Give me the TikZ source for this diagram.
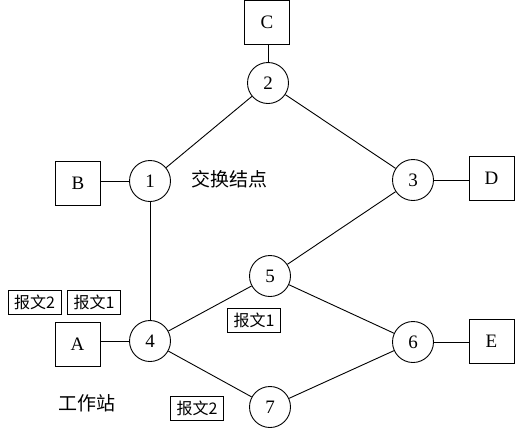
\documentclass[tikz,border=0pt]{standalone}
\usepackage{fontspec}
\setmainfont{Liberation Serif}
\newfontfamily\cjk{Noto Sans CJK SC}
\begin{document}
\begin{tikzpicture}[x=1pt,y=-1pt,
  sw/.style={circle,draw,line width=0.9pt,minimum size=41pt,inner sep=0pt,font=\fontsize{19}{19}\selectfont},
  host/.style={rectangle,draw,line width=0.9pt,minimum width=45pt,minimum height=44pt,inner sep=0pt,font=\fontsize{19}{19}\selectfont},
  msg/.style={rectangle,draw,line width=0.9pt,minimum width=53pt,minimum height=24pt,inner sep=1pt,font=\cjk\fontsize{16}{16}\selectfont},
  lbl/.style={inner sep=0pt,font=\cjk\fontsize{19}{19}\selectfont},
  link/.style={line width=0.9pt}]
\useasboundingbox (0,0) rectangle (520,432);
\node[host] (C) at (267,22) {C};
\node[sw] (n2) at (268,83) {2};
\node[sw] (n1) at (150,181) {1};
\node[host] (B) at (78,183) {B};
\node[lbl] (t1) at (229,179) {交换结点};
\node[sw] (n3) at (413,180) {3};
\node[host] (D) at (491.5,178) {D};
\node[sw] (n5) at (270,276) {5};
\node[sw] (n4) at (150,341) {4};
\node[host] (A) at (77.5,344) {A};
\node[sw] (n6) at (413,342) {6};
\node[host] (E) at (491.5,341) {E};
\node[sw] (n7) at (270,407) {7};
\node[lbl] (t2) at (87,403) {工作站};
\node[msg] (m1) at (34.5,302.5) {报文2};
\node[msg] (m2) at (94,302.5) {报文1};
\node[msg] (m3) at (254,320) {报文1};
\node[msg] (m4) at (197,408.5) {报文2};
\draw[link] (n1) -- (n2);
\draw[link] (n2) -- (n3);
\draw[link] (n1) -- (n4);
\draw[link] (n3) -- (n5);
\draw[link] (n4) -- (n5);
\draw[link] (n4) -- (n7);
\draw[link] (n5) -- (n6);
\draw[link] (n7) -- (n6);
\draw[link] (n1) -- (n1 -| B.east);
\draw[link] (n2) -- (n2 |- C.south);
\draw[link] (n3) -- (n3 -| D.west);
\draw[link] (n4) -- (n4 -| A.east);
\draw[link] (n6) -- (n6 -| E.west);
\end{tikzpicture}
\end{document}
